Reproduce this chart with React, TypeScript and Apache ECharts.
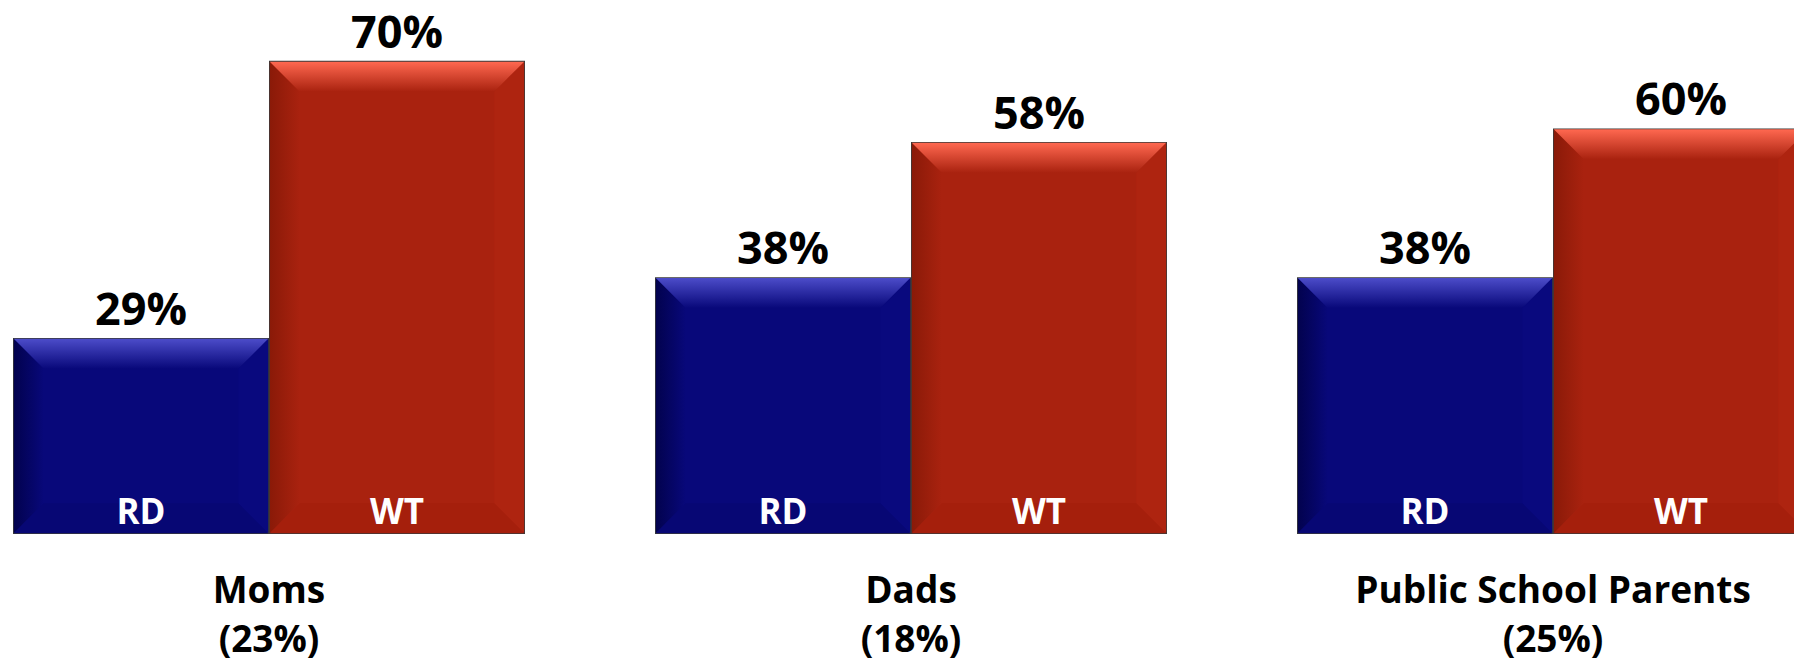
import React, { useEffect, useRef } from 'react';
import * as echarts from 'echarts';

// ---- data ----
const categories = ['Moms\n(23%)', 'Dads\n(18%)', 'Public School Parents\n(25%)'];
const seriesNames = ['RD', 'WT'];
const rdValues = [29, 38, 38];
const wtValues = [70, 58, 60];

// ---- styles ----
const FONT = '"Open Sans", "Noto Sans", sans-serif';
const BAR_W = 256;
const BEVEL = 30;
const BLUE = { main: '#08087a', light: '#4c4cc9', dark: '#02024e', right: '#09097e', bottom: '#070774' };
const RED = { main: '#a9220f', light: '#ff6850', dark: '#8a1a08', right: '#ae2410', bottom: '#a51f0c' };

function bevelSeries(name: string, side: number, values: number[], pal: any) {
  return {
    type: 'custom',
    name: name + '-bevel',
    silent: true,
    z: 3,
    data: values.map((v, i) => [i, v]),
    encode: { x: 0, y: 1 },
    renderItem: (params: any, api: any) => {
      const i = api.value(0);
      const v = api.value(1);
      const t = api.coord([i, v]);
      const b = api.coord([i, 0]);
      const cx = t[0];
      const inset = 0.8;
      const x0 = (side === 0 ? cx - BAR_W : cx) + inset;
      const x1 = (side === 0 ? cx : cx + BAR_W) - inset;
      const y0 = t[1] + inset;
      const y1 = b[1] - inset;
      const s = Math.min(BEVEL, (y1 - y0) / 2);
      return {
        type: 'group',
        children: [
          {
            type: 'polygon',
            shape: { points: [[x0, y0], [x0 + s, y0 + s], [x0 + s, y1 - s], [x0, y1]] },
            style: {
              fill: new echarts.graphic.LinearGradient(0, 0, 1, 0, [
                { offset: 0, color: pal.dark },
                { offset: 1, color: pal.main },
              ]),
            },
          },
          {
            type: 'polygon',
            shape: { points: [[x1, y0], [x1, y1], [x1 - s, y1 - s], [x1 - s, y0 + s]] },
            style: { fill: pal.right },
          },
          {
            type: 'polygon',
            shape: { points: [[x0, y1], [x1, y1], [x1 - s, y1 - s], [x0 + s, y1 - s]] },
            style: { fill: pal.bottom },
          },
          {
            type: 'polygon',
            shape: { points: [[x0, y0], [x1, y0], [x1 - s, y0 + s], [x0 + s, y0 + s]] },
            style: {
              fill: new echarts.graphic.LinearGradient(0, 0, 0, 1, [
                { offset: 0, color: pal.light },
                { offset: 1, color: pal.main },
              ]),
            },
          },
          {
            type: 'text',
            style: {
              text: name,
              x: (x0 + x1) / 2,
              y: b[1] - 24,
              align: 'center',
              verticalAlign: 'middle',
              fill: '#ffffff',
              fontSize: 35,
              fontWeight: 'bold',
              fontFamily: FONT,
            },
          },
        ],
      };
    },
  };
}

function barSeries(name: string, values: number[], pal: any) {
  return {
    type: 'bar',
    name,
    data: values,
    barWidth: BAR_W,
    barGap: '0%',
    silent: true,
    z: 2,
    itemStyle: { color: pal.main, borderColor: '#3a3a3a', borderWidth: 1.6 },
    label: {
      show: true,
      position: 'top',
      distance: 8,
      formatter: '{c}%',
      fontSize: 45,
      lineHeight: 45,
      fontWeight: 'bold',
      fontFamily: FONT,
      color: '#000000',
    },
  };
}

export default function App() {
  const ref = useRef<HTMLDivElement>(null);
  useEffect(() => {
    const chart = echarts.init(ref.current!, null, { renderer: 'svg' });
    chart.setOption({
      animation: false,
      backgroundColor: '#ffffff',
      grid: {
        left: -52,
        width: 1926,
        top: 0,
        bottom: 129,
        containLabel: false,
        outerBoundsMode: 'none',
      },
      xAxis: {
        type: 'category',
        data: categories,
        axisLine: { show: false },
        axisTick: { show: false },
        splitLine: { show: false },
        axisLabel: {
          interval: 0,
          margin: 30,
          fontSize: 37,
          lineHeight: 49,
          fontWeight: 'bold',
          fontFamily: FONT,
          color: '#000000',
        },
      },
      yAxis: { type: 'value', min: 0, max: 79, show: false },
      series: [
        barSeries(seriesNames[0], rdValues, BLUE),
        barSeries(seriesNames[1], wtValues, RED),
        bevelSeries(seriesNames[0], 0, rdValues, BLUE),
        bevelSeries(seriesNames[1], 1, wtValues, RED),
      ],
    });
    return () => chart.dispose();
  }, []);
  return (
    <div
      ref={ref}
      style={{ position: 'fixed', left: 0, top: 0, width: 1794, height: 663, background: '#fff' }}
    />
  );
}
